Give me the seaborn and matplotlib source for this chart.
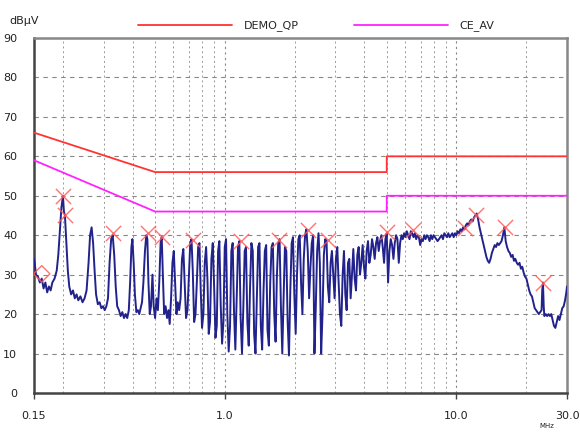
import matplotlib.pyplot as plt
import matplotlib.ticker as mticker
import seaborn as sns

# === DATI ===
# limiti (MHz, dBuV)
qp_f = [0.15, 0.5, 5, 5, 30]
qp_db = [66, 56, 56, 60, 60]
av_f = [0.15, 0.5, 5, 5, 30]
av_db = [59, 46, 46, 50, 50]

trace_f = [
    0.150, 0.151, 0.153, 0.156, 0.159, 0.162, 0.165, 0.168, 0.171, 0.174, 0.177, 0.180,
    0.184, 0.188, 0.191, 0.194, 0.197, 0.200, 0.202, 0.204, 0.207, 0.210, 0.213, 0.217,
    0.221, 0.225, 0.229, 0.233, 0.238, 0.243, 0.248, 0.253, 0.258, 0.262, 0.266, 0.270,
    0.274, 0.278, 0.283, 0.288, 0.293, 0.298, 0.303, 0.308, 0.313, 0.318, 0.323, 0.328,
    0.333, 0.338, 0.343, 0.349, 0.355, 0.361, 0.367, 0.373, 0.379, 0.385, 0.390, 0.395,
    0.399, 0.404, 0.409, 0.415, 0.421, 0.427, 0.433, 0.439, 0.445,
    0.452, 0.458, 0.463, 0.468, 0.474, 0.480, 0.487, 0.493, 0.500, 0.507, 0.514, 0.521,
    0.528, 0.534, 0.540, 0.547, 0.555, 0.563, 0.571, 0.578, 0.586, 0.594, 0.602, 0.610,
    0.618, 0.626, 0.635, 0.644, 0.653, 0.662, 0.671, 0.680, 0.690, 0.700, 0.709, 0.718,
    0.727, 0.737, 0.747, 0.757, 0.767, 0.777, 0.787, 0.797, 0.808, 0.819, 0.830, 0.841,
    0.852, 0.863, 0.875, 0.887, 0.899, 0.911, 0.923, 0.935, 0.947, 0.960, 0.973, 0.986,
    0.999, 1.012,
    1.025, 1.039, 1.053, 1.067, 1.081, 1.095, 1.110, 1.125, 1.140, 1.155, 1.170, 1.186,
    1.202, 1.218, 1.234, 1.251, 1.268, 1.285, 1.302, 1.320, 1.338, 1.356, 1.374, 1.392,
    1.411, 1.430, 1.449, 1.469, 1.488, 1.508, 1.528, 1.549, 1.570, 1.591, 1.612, 1.634,
    1.656, 1.678, 1.700, 1.723, 1.746, 1.770, 1.793, 1.817, 1.842, 1.867, 1.892, 1.917,
    1.943, 1.969, 1.995, 2.022, 2.049, 2.077, 2.105, 2.133, 2.162, 2.191, 2.220, 2.250,
    2.280, 2.311, 2.342, 2.373, 2.405, 2.437, 2.470, 2.503, 2.537, 2.571, 2.605, 2.640,
    2.676, 2.712, 2.748, 2.785, 2.823, 2.861, 2.899, 2.938, 2.977, 3.017, 3.058, 3.099,
    3.140, 3.182,
    3.225, 3.268, 3.312, 3.356, 3.401, 3.446, 3.492, 3.539, 3.586, 3.634, 3.683, 3.732,
    3.782, 3.832, 3.883, 3.935, 3.988, 4.041, 4.095, 4.150, 4.206, 4.262, 4.319, 4.377,
    4.435, 4.495, 4.555, 4.616, 4.678, 4.740, 4.804, 4.868, 4.933, 4.999, 5.066, 5.134,
    5.202, 5.272, 5.343, 5.414, 5.487, 5.560, 5.635,
    5.710, 5.787, 5.864, 5.943, 6.022, 6.103, 6.185, 6.268, 6.352, 6.437, 6.523, 6.610,
    6.699, 6.789, 6.880, 6.972, 7.065, 7.160, 7.256, 7.353, 7.452, 7.552, 7.653, 7.756,
    7.860, 7.965, 8.072, 8.180, 8.290, 8.401, 8.514, 8.628, 8.743, 8.860, 8.979, 9.100,
    9.222, 9.345, 9.471, 9.598, 9.726, 9.857, 9.989,
    10.12, 10.26, 10.40, 10.54, 10.68, 10.82, 10.97, 11.12, 11.27, 11.42, 11.58, 11.74,
    11.90, 12.06, 12.23, 12.40, 12.57, 12.74, 12.92, 13.10, 13.28, 13.46, 13.65, 13.84,
    14.03, 14.22, 14.42, 14.62, 14.82, 15.02, 15.23, 15.44, 15.65, 15.87, 16.09, 16.31,
    16.53, 16.76, 16.99, 17.23, 17.47, 17.71, 17.95, 18.20, 18.45, 18.71, 18.97, 19.23,
    19.50, 19.77, 20.04, 20.32, 20.60, 20.88, 21.17, 21.46, 21.76, 22.06, 22.36, 22.67,
    22.98, 23.30, 23.45, 23.62, 23.80, 23.95, 24.28, 24.62, 24.96, 25.30, 25.65, 26.00,
    26.36, 26.72, 27.09, 27.47, 27.84, 28.23, 28.62, 29.02, 29.42, 29.80, 30.00,
]
trace_db = [
    34, 33, 30, 29.5, 28, 29, 26.5, 28, 25.5, 27, 26, 28,
    29, 31, 35, 41, 47, 50, 46, 45, 38, 31, 27, 25,
    26, 24, 25, 23.5, 24.5, 23, 24, 26, 33, 40, 42, 38,
    31, 25, 22.5, 23, 21.5, 22, 21, 22, 24, 33, 39, 40,
    35, 27, 22, 21, 19.5, 20.5, 19, 20, 19, 21, 28, 37,
    39, 33, 25, 20.5, 21, 20, 21.5, 23, 28,
    36, 40, 39, 28, 20, 22, 30, 22, 19, 24, 21, 28,
    38, 39.5, 30, 20, 22, 19, 21, 17.5, 24, 33, 36, 28,
    20, 23, 21, 24, 34, 36.5, 28, 19, 21, 30, 38, 39,
    31, 18, 20, 28, 37, 38, 26, 16.5, 20, 33, 37, 29,
    15, 18, 34, 38, 27, 14, 17, 36, 38.5, 22, 12.5, 18,
    37, 39,
    20, 10.5, 17, 36, 38, 21, 11, 24, 37, 38.5, 19, 10,
    22, 36, 37, 18, 12, 27, 38, 36, 15, 10, 24, 37,
    38, 17, 11, 26, 36, 37.5, 16, 12, 28, 37, 38, 20,
    13, 30, 38, 39, 22, 10, 24, 37, 36, 18, 9.5, 26,
    38, 39.5, 25, 15, 30, 39, 40, 28, 20, 34, 40, 41.5,
    36, 24, 32, 38, 40, 10, 22, 36, 40.5, 33, 10, 20,
    35, 39, 38.5, 27, 23, 33, 36, 30, 24, 34, 37, 28,
    20, 17,
    30, 36, 25, 21, 33, 34, 24, 30, 36.5, 29, 26, 35,
    37, 30, 33, 37.5, 32, 29, 36, 38.5, 33, 35, 39, 37,
    34, 38, 39.5, 36, 38.5, 40, 37, 33, 39, 40.5, 28, 36,
    39, 37.5, 34, 38, 40, 39, 33,
    38, 40, 39, 40.5, 39.5, 41, 40, 39, 41, 40.5, 39.5, 40.5,
    39, 40, 39.5, 37.5, 39, 38.5, 40, 39, 40, 39.5, 38.5, 40,
    39, 40, 39.5, 39, 38.5, 39, 39.5, 40, 39, 40.5, 40, 39.5,
    40.5, 39.5, 40, 40.5, 39.5, 40.5, 40,
    41, 40.5, 41.5, 41, 42, 41.5, 42.5, 43, 42.5, 43.5, 44, 43.5,
    44.5, 45, 45.5, 44, 42, 40.5, 39, 37.5, 36, 34.5, 33.5, 33,
    34, 35.5, 36.5, 37.5, 37, 38, 37.5, 38, 38.5, 40, 42, 38.5,
    37, 36, 35.5, 34.5, 35, 33.5, 34, 33, 32.5, 33, 31.5, 32,
    30.5, 29.5, 29, 27.5, 26, 25, 24.5, 23, 21.5, 21, 20.5, 20,
    20.5, 21, 26, 28, 22, 19.5, 20, 19.5, 20, 19.5, 20, 18.5,
    17, 16.5, 18, 19.5, 18.5, 20, 21.5, 22, 23.5, 25.5, 27,
]

# marker dei picchi
peak_f = [0.200, 0.204, 0.328, 0.465, 0.535, 0.727, 1.18, 1.71, 2.28, 2.78,
          5.0, 6.48, 10.9, 12.2, 16.2, 23.6]
peak_db = [50, 45.2, 40.6, 40.6, 39.6, 38.8, 38.6, 38.8, 41.4, 38.8,
           40.9, 41.4, 41.9, 45.2, 42.1, 27.9]
avg_f = [0.162]
avg_db = [30.2]

x_ticks = [0.15, 1, 10, 30]
x_labels = ["0.15", "1.0", "10.0", "30.0"]
y_ticks = list(range(0, 91, 10))

# === GRAFICO ===
sns.set_theme(style="white")
plt.rcParams['font.family'] = ['DejaVu Sans']

fig = plt.figure(figsize=(5.8, 4.34), dpi=100)
ax = fig.add_axes([0.0586, 0.0945, 0.9190, 0.8180])

sns.lineplot(x=trace_f, y=trace_db, ax=ax, color="#22228c", linewidth=1.4,
             estimator=None, sort=False, zorder=3)
sns.lineplot(x=qp_f, y=qp_db, ax=ax, color="#ff3333", linewidth=1.3,
             estimator=None, sort=False, label="DEMO_QP", zorder=4)
sns.lineplot(x=av_f, y=av_db, ax=ax, color="#ff22ff", linewidth=1.3,
             estimator=None, sort=False, label="CE_AV", zorder=4)
ax.scatter(peak_f, peak_db, marker="x", s=120, color="#ff5a5a", linewidths=1.0,
           alpha=0.85, zorder=5)
ax.scatter(avg_f, avg_db, marker="D", s=70, facecolor="none", edgecolor="#ff5a5a",
           linewidths=1.0, alpha=0.85, zorder=5)

ax.set_xscale("log")
ax.set_xlim(0.15, 30)
ax.set_ylim(0, 90)
ax.set_xticks(x_ticks)
ax.set_xticklabels(x_labels)
ax.xaxis.set_minor_locator(mticker.LogLocator(base=10, subs=range(2, 10), numticks=20))
ax.xaxis.set_minor_formatter(mticker.NullFormatter())
ax.set_yticks(y_ticks)

ax.grid(True, which="major", axis="y", color="#888888", linestyle=(0, (4, 4)), linewidth=0.8)
ax.grid(True, which="major", axis="x", color="#888888", linestyle=(0, (2, 3)), linewidth=0.8)
ax.grid(True, which="minor", axis="x", color="#999999", linestyle=(0, (2, 3)), linewidth=0.7)

ax.tick_params(axis="x", which="major", bottom=True, length=4, width=1, color="#444444",
               labelsize=8, pad=9, labelcolor="#222222")
ax.tick_params(axis="x", which="minor", bottom=False)
ax.tick_params(axis="y", left=False, labelsize=8, pad=6, labelcolor="#222222")

for side in ["left", "bottom"]:
    ax.spines[side].set_color("#444444")
    ax.spines[side].set_linewidth(1.8)
for side in ["top", "right"]:
    ax.spines[side].set_color("#888888")
    ax.spines[side].set_linewidth(1.8)

ax.legend_.remove()
handles, labels = ax.get_legend_handles_labels()
fig.legend(handles, labels, loc="center", bbox_to_anchor=(0.545, 0.94), ncol=2,
           frameon=False, fontsize=8, handlelength=8.5, handletextpad=1.0,
           columnspacing=5.0)

fig.text(0.017, 0.952, "dBµV", fontsize=8, color="#222222", va="center")
fig.text(0.93, 0.012, "MHz", fontsize=5, color="#222222", va="bottom")

fig.savefig("out.png", dpi=100)
